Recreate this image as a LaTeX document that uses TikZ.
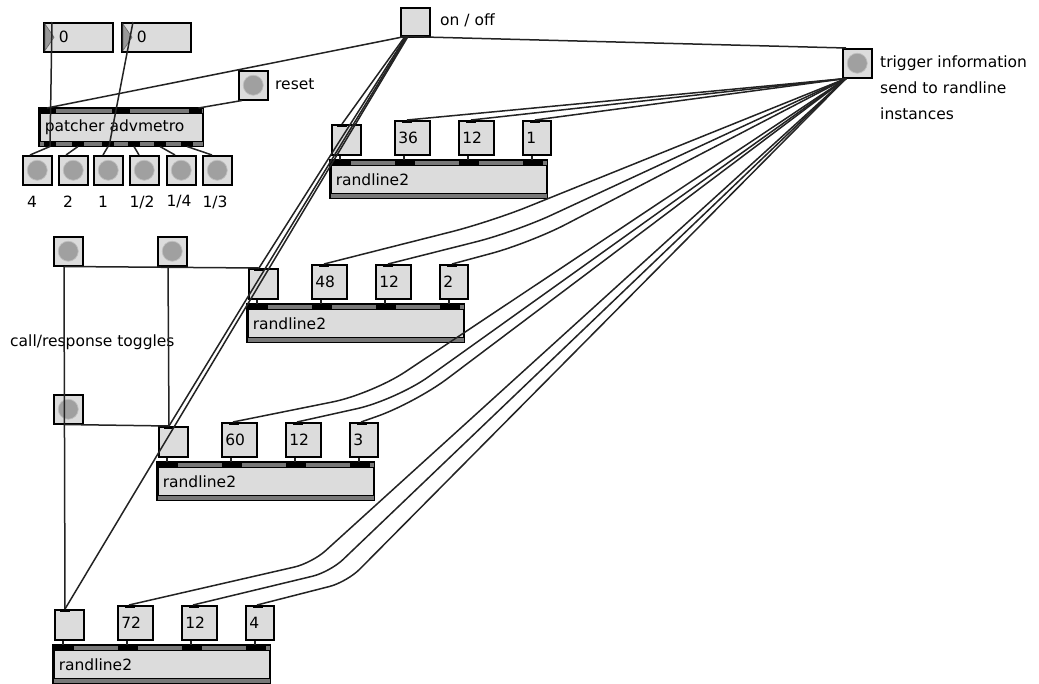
\documentclass[tikz,border=0pt]{standalone}
\usepackage{fontspec}
\setmainfont{DejaVu Sans}
\usetikzlibrary{calc}

\definecolor{boxfill}{RGB}{220,220,220}
\definecolor{bangfill}{RGB}{160,160,160}
\definecolor{bandgray}{RGB}{120,120,120}
\definecolor{cordcol}{RGB}{35,35,35}

\tikzset{
  maxfont/.style={font=\fontsize{15.5}{19}\selectfont},
  boxbase/.style={draw=black, line width=1.5pt, fill=boxfill, inner sep=0pt, anchor=north west, maxfont},
  numwide/.style={boxbase, minimum height=34pt, text width=28pt, inner xsep=3.5pt, align=left},
  numnarrow/.style={boxbase, minimum height=34pt, text width=21pt, inner xsep=3.5pt, align=left},
  togglebox/.style={boxbase, minimum width=29pt, minimum height=30pt},
  bangbox/.style={boxbase, minimum width=29pt, minimum height=29pt,
    path picture={\filldraw[fill=bangfill, draw=black!25, line width=0.7pt]
      (path picture bounding box.center) circle (10pt);}},
  objbox/.style={boxbase, minimum width=216pt, minimum height=37pt, text width=206pt, inner xsep=5pt, align=left},
  cord/.style={draw=cordcol, line width=1.5pt},
  band/.style={fill=bandgray, draw=black, line width=0.9pt},
  port/.style={fill=black},
  labeltext/.style={maxfont, inner sep=0pt}
}

% A randline2 object with its toggle and three number boxes above it
\newcommand\randobj[6]{%
  \node[objbox] (#1) at (#2,#3) {randline2};
  \node[togglebox] (#1t) at (#2+1,#3-36) {};
  \node[numwide] (#1a) at (#2+64,#3-40) {#4};
  \node[numwide] (#1b) at (#2+128,#3-40) {#5};
  \node[numnarrow] (#1c) at (#2+192,#3-40) {#6};
  \filldraw[band] (#1.north west) rectangle ($(#1.north east)+(0,5)$);
  \foreach \p in {1,65,129,193} \fill[port] ($(#1.north west)+(\p,0)$) rectangle +(20,5);
  \filldraw[band] ($(#1.south west)+(0,-5)$) rectangle (#1.south east);
  \draw[line width=1.5pt] (#1.north west) rectangle (#1.south east);
  \foreach \n in {#1a,#1b,#1c} \fill[port] ($(\n.north west)+(8,0)$) rectangle +(10,3);
  \fill[port] ($(#1t.north west)+(6,0)$) rectangle +(10,3);
  \draw[cord] ($(#1t.south west)+(9,0)$) -- ($(#1.north west)+(10,0)$);
  \draw[cord] ($(#1a.south west)+(10,0)$) -- ($(#1.north west)+(74,0)$);
  \draw[cord] ($(#1b.south west)+(10,0)$) -- ($(#1.north west)+(138,0)$);
  \draw[cord] ($(#1c.south west)+(10,0)$) -- ($(#1.north west)+(202,0)$);
}

\begin{document}
\begin{tikzpicture}[x=1pt, y=-1pt]
\useasboundingbox[fill=white] (0,0) rectangle (1039,683);

% ---- metronome section -------------------------------------------------
\node[boxbase, minimum width=69pt, minimum height=29pt, text width=55pt, inner xsep=7pt, align=left] (nb1) at (43,22) {\hspace*{8pt}0};
\node[boxbase, minimum width=69pt, minimum height=29pt, text width=55pt, inner xsep=7pt, align=left] (nb2) at (121,22) {\hspace*{8pt}0};
\foreach \n in {nb1,nb2}
  \filldraw[fill=black!40, draw=black!60, line width=0.6pt]
    ($(\n.north west)+(2,2)$) -- ($(\n.west)+(11,0)$) -- ($(\n.south west)+(2,-2)$) -- cycle;

\node[bangbox] (reset) at (238,70) {};
\node[labeltext, anchor=west] (resetlabel) at (275,84) {reset};

\node[objbox, minimum width=163pt, text width=153pt] (adv) at (39,108) {patcher advmetro};
\filldraw[band] (adv.north west) rectangle ($(adv.north east)+(0,5)$);
\fill[port] ($(adv.north west)+(1,0)$) rectangle +(16,5);
\fill[port] ($(adv.north west)+(73,0)$) rectangle +(18,5);
\fill[port] ($(adv.north west)+(150,0)$) rectangle +(13,5);
\filldraw[band] ($(adv.south west)+(0,-5)$) rectangle (adv.south east);
\foreach \p in {5,33,63,89,115,142} \fill[port] ($(adv.south west)+(\p,0)$) rectangle +(12,-5);
\draw[line width=1.5pt] (adv.north west) rectangle (adv.south east);

\node[bangbox] (beat1) at (22,155) {};
\node[bangbox] (beat2) at (58,155) {};
\node[bangbox] (beat3) at (93,155) {};
\node[bangbox] (beat4) at (129,155) {};
\node[bangbox] (beat5) at (166,155) {};
\node[bangbox] (beat6) at (202,155) {};
\node[labeltext] (lab1) at (32,202) {4};
\node[labeltext] (lab2) at (68,202) {2};
\node[labeltext] (lab3) at (103,202) {1};
\node[labeltext] (lab4) at (142,202) {1/2};
\node[labeltext] (lab5) at (179,202) {1/4};
\node[labeltext] (lab6) at (215,202) {1/3};

% ---- master switch and trigger ----------------------------------------
\node[togglebox, minimum height=28pt] (onoff) at (400,7) {};
\draw[line width=2.2pt] (onoff.south west) -- (onoff.south east);
\node[labeltext, anchor=west] (onofflabel) at (440,20) {on / off};

\node[bangbox] (trig) at (842,48) {};
\node[labeltext, anchor=west, align=left, font=\fontsize{15.5}{26}\selectfont] (triglabel) at (880,88)
  {trigger information\\send to randline\\instances};

% ---- call/response toggles -----------------------------------------------
\node[bangbox] (callA) at (53,236) {};
\node[bangbox] (callB) at (157,236) {};
\node[bangbox] (callC) at (53,394) {};
\node[labeltext, anchor=west] (calllabel) at (10,342) {call/response toggles};

% ---- the four randline2 voices ---------------------------------------------
\randobj{rA}{330}{160}{36}{12}{1}
\randobj{rB}{247}{304}{48}{12}{2}
\randobj{rC}{157}{462}{60}{12}{3}
\randobj{rD}{53}{645}{72}{12}{4}

% ---- patch cords -------------------------------------------------------------
% metronome outlets
\draw[cord] ($(adv.south west)+(11,0)$) -- ($(nb1.north west)+(9,0)$);
\draw[cord] ($(adv.south west)+(70,0)$) -- ($(nb2.north west)+(12,0)$);
\draw[cord] ($(adv.south west)+(11,0)$) -- ($(beat1.north west)+(8,0)$);
\draw[cord] ($(adv.south west)+(39,0)$) -- ($(beat2.north west)+(8,0)$);
\draw[cord] ($(adv.south west)+(69,0)$) -- ($(beat3.north west)+(10,0)$);
\draw[cord] ($(adv.south west)+(95,0)$) -- ($(beat4.north west)+(10,0)$);
\draw[cord] ($(adv.south west)+(121,0)$) -- ($(beat5.north west)+(9,0)$);
\draw[cord] ($(adv.south west)+(148,0)$) -- ($(beat6.north west)+(10,0)$);
\draw[cord] ($(reset.south west)+(4,0)$) -- ($(adv.north east)+(-5,0)$);

% on / off fan-out
\draw[cord] ($(onoff.south west)+(5,0)$) -- ($(adv.north west)+(8,0)$);
\draw[cord] ($(onoff.south west)+(5,0)$) -- ($(trig.north west)+(4,0)$);
\draw[cord] ($(onoff.south west)+(5,0)$) -- ($(rAt.north west)+(11,0)$);
\draw[cord] ($(onoff.south west)+(6,0)$) -- ($(rBt.north west)+(11,0)$);
\draw[cord] ($(onoff.south west)+(7,0)$) -- ($(rCt.north west)+(11,0)$);
\draw[cord] ($(onoff.south west)+(8,0)$) -- ($(rDt.north west)+(11,0)$);

% call/response wiring
\draw[cord] ($(callA.south west)+(11,0)$) -- ($(rBt.north west)+(11,0)$);
\draw[cord] ($(callA.south west)+(11,0)$) -- ($(rDt.north west)+(11,0)$);
\draw[cord] ($(callB.south west)+(11,0)$) -- ($(rCt.north west)+(11,0)$);
\draw[cord] ($(callC.south west)+(11,0)$) -- ($(rCt.north west)+(11,0)$);

% trigger fan-out to the number boxes
\coordinate (tout) at ($(trig.south west)+(4,0)$);
\draw[cord] (tout) -- ($(rAa.north west)+(13,0)$);
\draw[cord] (tout) -- ($(rAb.north west)+(13,0)$);
\draw[cord] (tout) -- ($(rAc.north west)+(13,0)$);
\begin{scope}[rounded corners=40pt]
\draw[cord] (tout) -- (490,222) -- ($(rBa.north west)+(13,0)$);
\draw[cord] (tout) -- (515,232) -- ($(rBb.north west)+(13,0)$);
\draw[cord] (tout) -- (530,243) -- ($(rBc.north west)+(13,0)$);
\draw[cord] (tout) -- (372,394) -- ($(rCa.north west)+(12,0)$);
\draw[cord] (tout) -- (396,400) -- ($(rCb.north west)+(12,0)$);
\draw[cord] (tout) -- (415,403) -- ($(rCc.north west)+(12,0)$);
\end{scope}
\begin{scope}[rounded corners=18pt]
\draw[cord] (tout) -- (312,563) -- ($(rDa.north west)+(12,0)$);
\draw[cord] (tout) -- (330,572) -- ($(rDb.north west)+(12,0)$);
\draw[cord] (tout) -- (347,582) -- ($(rDc.north west)+(12,0)$);
\end{scope}
\end{tikzpicture}
\end{document}
